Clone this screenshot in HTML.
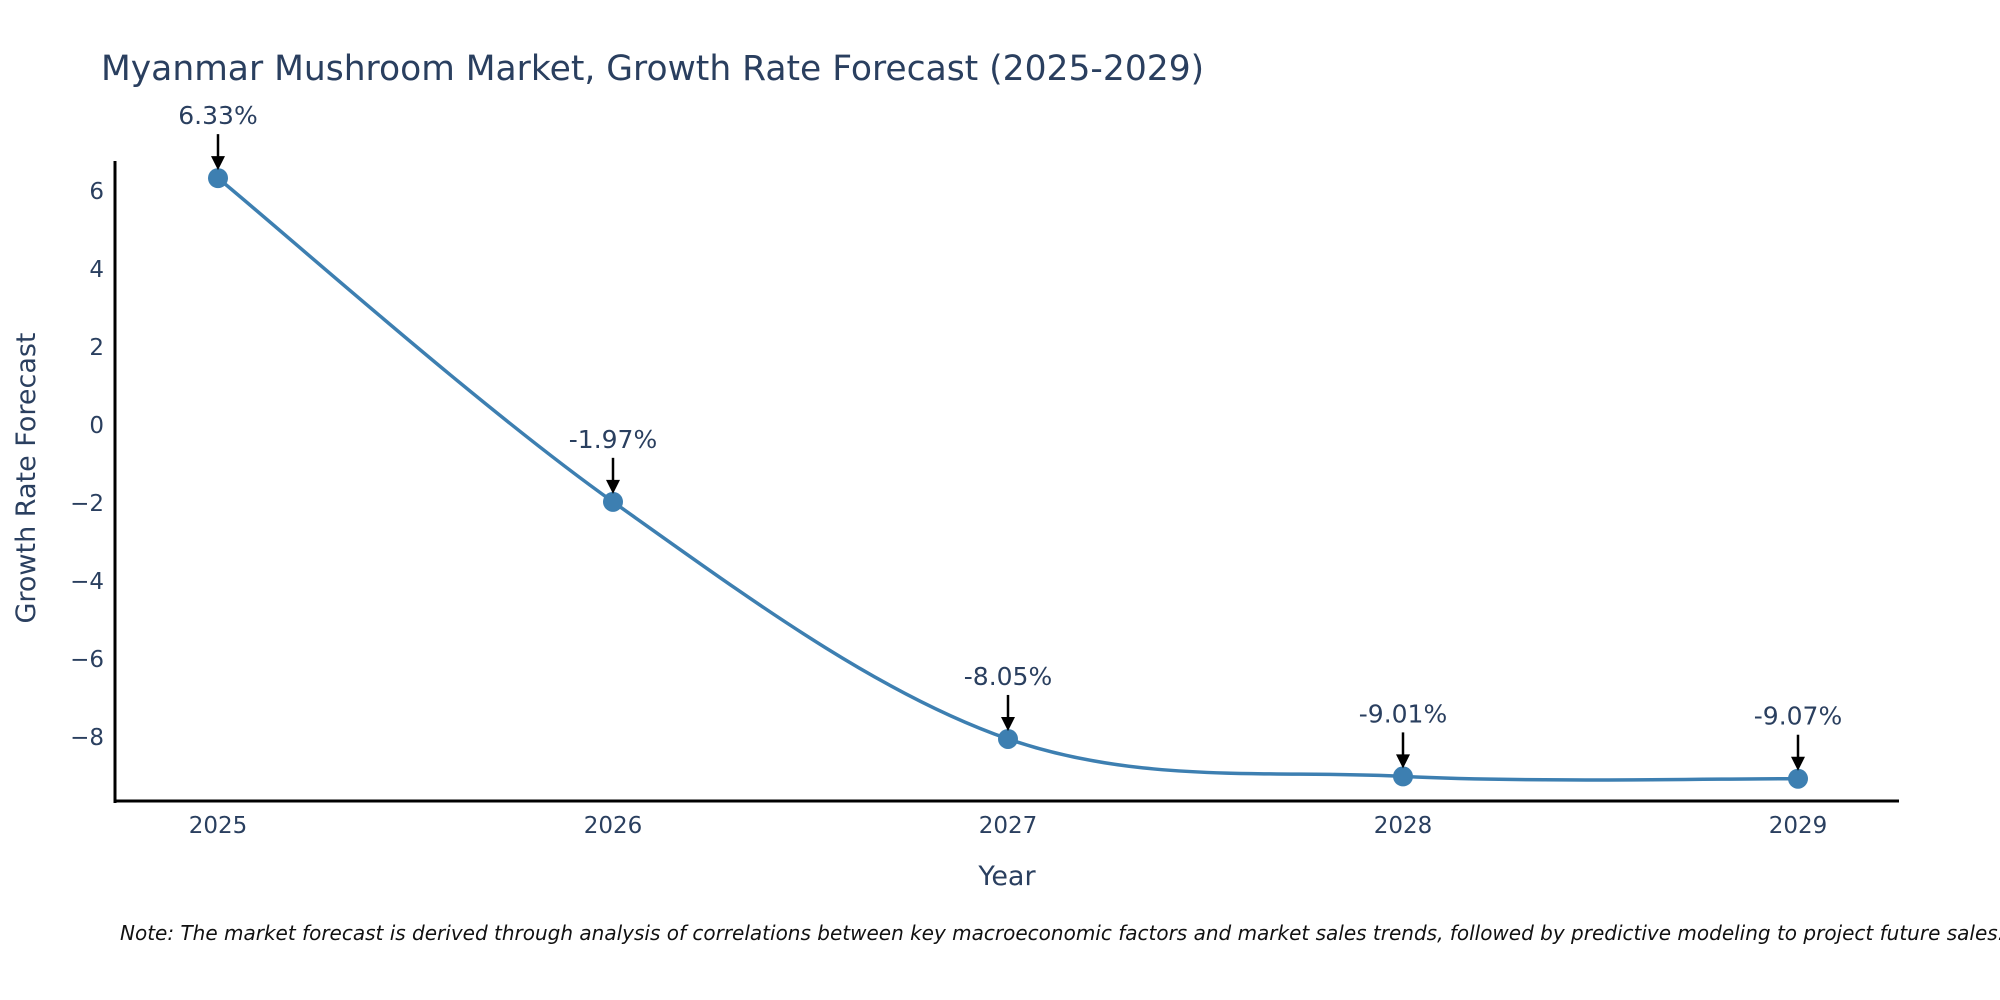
<!DOCTYPE html>
<html><head><meta charset="utf-8"><style>
html,body{margin:0;padding:0;background:#fff;overflow:hidden;}
svg{display:block;font-family:"DejaVu Sans","Liberation Sans",sans-serif;}
</style></head><body>
<svg id="chart" width="2000" height="1000" viewBox="0 0 2000 1000">
<text x="101" y="80" font-size="34.5" fill="#2a3f5f">Myanmar Mushroom Market, Growth Rate Forecast (2025-2029)</text>
<g id="yticks"></g>
<g id="xticks"></g>
<path id="line" fill="none" stroke="#3d7fb1" stroke-width="3.5"/>
<g id="points"></g>
<g id="annos"></g>
<line x1="115" y1="161" x2="115" y2="803" stroke="#000" stroke-width="3"/>
<line x1="114" y1="801" x2="1899" y2="801" stroke="#000" stroke-width="3"/>
<text x="1007" y="885" font-size="27" fill="#2a3f5f" text-anchor="middle">Year</text>
<text transform="translate(35,478) rotate(-90)" font-size="27" fill="#2a3f5f" text-anchor="middle">Growth Rate Forecast</text>
<text x="120" y="940" font-size="20" font-style="italic" fill="#111">Note: The market forecast is derived through analysis of correlations between key macroeconomic factors and market sales trends, followed by predictive modeling to project future sales.</text>
</svg>
<script>
const years = [2025, 2026, 2027, 2028, 2029];
const values = [6.33, -1.97, -8.05, -9.01, -9.07];
const labels = ["6.33%", "-1.97%", "-8.05%", "-9.01%", "-9.07%"];
const yTicks = [6, 4, 2, 0, -2, -4, -6, -8];
const NS = "http://www.w3.org/2000/svg";
const xScale = y => 218 + (y - 2025) * 395;
const yScale = v => 425 - v * 39;
function mk(tag, attrs, parent) {
  const e = document.createElementNS(NS, tag);
  for (const k in attrs) e.setAttribute(k, attrs[k]);
  parent.appendChild(e); return e;
}
const yt = document.getElementById('yticks');
yTicks.forEach(t => {
  const e = mk('text', {x: 104, y: yScale(t) + 8, 'font-size': 23, fill: '#2a3f5f', 'text-anchor': 'end'}, yt);
  
  
  e.textContent = t < 0 ? '\u2212' + Math.abs(t) : String(t);
});
const xt = document.getElementById('xticks');
years.forEach(y => {
  const e = mk('text', {x: xScale(y), y: 833, 'font-size': 23, fill: '#2a3f5f', 'text-anchor': 'middle'}, xt);
  
  
  e.textContent = String(y);
});
const pts = years.map((y, i) => [xScale(y), yScale(values[i])]);
let d = 'M' + pts[0][0] + ',' + pts[0][1];
for (let i = 0; i < pts.length - 1; i++) {
  const p0 = pts[Math.max(i - 1, 0)], p1 = pts[i], p2 = pts[i + 1], p3 = pts[Math.min(i + 2, pts.length - 1)];
  const c1 = [p1[0] + (p2[0] - p0[0]) / 6, p1[1] + (p2[1] - p0[1]) / 6];
  const c2 = [p2[0] - (p3[0] - p1[0]) / 6, p2[1] - (p3[1] - p1[1]) / 6];
  d += ' C' + c1.join(',') + ' ' + c2.join(',') + ' ' + p2.join(',');
}
document.getElementById('line').setAttribute('d', d);
const pg = document.getElementById('points'), ag = document.getElementById('annos');
pts.forEach((p, i) => {
  const c = mk('circle', {cx: p[0], cy: p[1], r: 10, fill: '#3d7fb1'}, pg);
  
  
  const l = mk('line', {x1: p[0], y1: p[1] - 44, x2: p[0], y2: p[1] - 20, stroke: '#000', 'stroke-width': 2.5}, ag);
  
  
  const h = mk('polygon', {points: (p[0] - 7) + ',' + (p[1] - 22) + ' ' + (p[0] + 7) + ',' + (p[1] - 22) + ' ' + p[0] + ',' + (p[1] - 8), fill: '#000'}, ag);
  
  
  const t = mk('text', {x: p[0], y: p[1] - 54, 'font-size': 25, fill: '#2a3f5f', 'text-anchor': 'middle'}, ag);
  
  
  t.textContent = labels[i];
});
</script>
</body></html>
